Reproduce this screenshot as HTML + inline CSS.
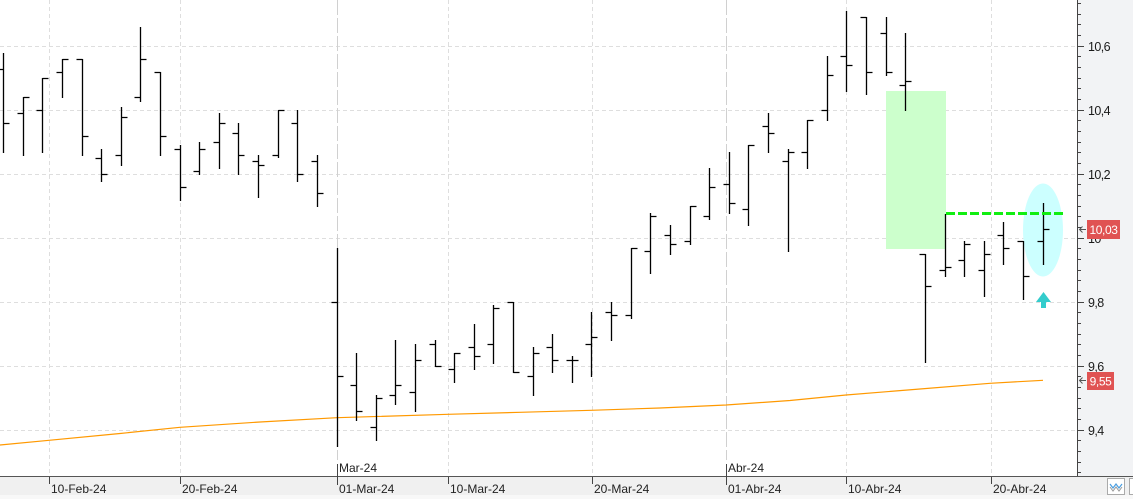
<!DOCTYPE html>
<html>
<head>
<meta charset="utf-8">
<style>
html,body{margin:0;padding:0;background:#fff;}
svg{display:block;}
text{font-family:"Liberation Sans",sans-serif;}
</style>
</head>
<body>
<svg width="1133" height="499" viewBox="0 0 1133 499" xmlns="http://www.w3.org/2000/svg">
<rect x="0" y="0" width="1133" height="499" fill="#ffffff"/>
<rect x="1078" y="0" width="55" height="476" fill="#f2f3f5"/>
<rect x="0" y="476" width="1133" height="19" fill="#f0f0f0"/>
<rect x="0" y="495" width="1133" height="4" fill="#f8f8f8"/>

<g stroke="#dedede" stroke-width="1" stroke-dasharray="4 3" fill="none">
<path d="M0 46.5H1077M0 110.5H1077M0 174.5H1077M0 238.5H1077M0 302.5H1077M0 366.5H1077M0 430.5H1077"/>
<path d="M49.5 0V476M180.5 0V476M448.5 0V476M592.5 0V476M846.5 0V476M991.5 0V476"/>
</g>
<g stroke="#d0d0d0" stroke-width="1" stroke-dasharray="15 3" fill="none">
<path d="M337.5 0V460M726.5 0V460"/>
</g>

<rect x="886" y="91" width="60" height="158" fill="#ccffcc"/>
<ellipse cx="1043" cy="230" rx="20" ry="46.5" fill="#ccffff"/>

<polyline fill="none" stroke="#ff9900" stroke-width="1.2" points="0,445 49,440.3 120,433.5 180,427.3 260,422 337,417.7 448,414.3 520,412.3 591,410.3 660,408 726,405 790,400.5 846,395 920,389 990,383.3 1043,380.3"/>

<path fill="none" stroke="#000" stroke-width="1.3" d="M3.5 53V153M-2.5 69.5H3.5M3.5 123.5H9.5 M23.5 97V156M17.5 113.5H23.5M23.5 97.5H29.5 M42.5 78V153M36.5 110.5H42.5M42.5 78.5H48.5 M62.5 59V98M56.5 72.5H62.5M62.5 59.5H68.5 M82.5 59V156M76.5 59.5H82.5M82.5 136.5H88.5 M101.5 149V182M95.5 158.5H101.5M101.5 174.5H107.5 M121.5 107V166M115.5 155.5H121.5M121.5 117.5H127.5 M140.5 27V102M134.5 97.5H140.5M140.5 59.5H146.5 M160.5 72V156M154.5 72.5H160.5M160.5 136.5H166.5 M180.5 145V201M174.5 149.5H180.5M180.5 187.5H186.5 M199.5 142V175M193.5 171.5H199.5M199.5 149.5H205.5 M219.5 113V169M213.5 142.5H219.5M219.5 123.5H225.5 M238.5 123V175M232.5 133.5H238.5M238.5 155.5H244.5 M258.5 155V198M252.5 161.5H258.5M258.5 165.5H264.5 M278.5 110V158M272.5 155.5H278.5M278.5 110.5H284.5 M297.5 110V182M291.5 123.5H297.5M297.5 174.5H303.5 M317.5 155V207M311.5 161.5H317.5M317.5 193.5H323.5 M337.5 248V447M331.5 302.5H337.5M337.5 376.5H343.5 M356.5 353V421M350.5 385.5H356.5M356.5 411.5H362.5 M376.5 395V441M370.5 427.5H376.5M376.5 398.5H382.5 M395.5 340V405M389.5 395.5H395.5M395.5 385.5H401.5 M415.5 344V412M409.5 392.5H415.5M415.5 360.5H421.5 M435.5 340V367M429.5 344.5H435.5M435.5 366.5H441.5 M454.5 353V383M448.5 369.5H454.5M454.5 353.5H460.5 M474.5 324V370M468.5 347.5H474.5M474.5 356.5H480.5 M493.5 305V364M487.5 344.5H493.5M493.5 308.5H499.5 M513.5 302V373M507.5 302.5H513.5M513.5 372.5H519.5 M533.5 347V396M527.5 376.5H533.5M533.5 353.5H539.5 M552.5 334V373M546.5 347.5H552.5M552.5 360.5H558.5 M572.5 356V383M566.5 360.5H572.5M572.5 360.5H578.5 M591.5 312V377M585.5 344.5H591.5M591.5 337.5H597.5 M611.5 302V341M605.5 312.5H611.5M611.5 315.5H617.5 M631.5 248V319M625.5 315.5H631.5M631.5 248.5H637.5 M650.5 213V274M644.5 251.5H650.5M650.5 216.5H656.5 M670.5 225V255M664.5 235.5H670.5M670.5 244.5H676.5 M690.5 206V245M684.5 241.5H690.5M690.5 206.5H696.5 M709.5 168V220M703.5 216.5H709.5M709.5 187.5H715.5 M729.5 152V214M723.5 184.5H729.5M729.5 203.5H735.5 M748.5 145V226M742.5 209.5H748.5M748.5 145.5H754.5 M768.5 113V153M762.5 126.5H768.5M768.5 133.5H774.5 M788.5 149V252M782.5 161.5H788.5M788.5 152.5H794.5 M807.5 120V169M801.5 152.5H807.5M807.5 120.5H813.5 M827.5 56V121M821.5 110.5H827.5M827.5 75.5H833.5 M846.5 11V92M840.5 56.5H846.5M846.5 65.5H852.5 M866.5 17V95M860.5 17.5H866.5M866.5 72.5H872.5 M886.5 17V76M880.5 33.5H886.5M886.5 72.5H892.5 M905.5 33V111M899.5 85.5H905.5M905.5 81.5H911.5 M925.5 254V363M919.5 254.5H925.5M925.5 286.5H931.5 M945.5 214V277M939.5 270.5H945.5M945.5 267.5H951.5 M964.5 241V277M958.5 260.5H964.5M964.5 244.5H970.5 M984.5 241V297M978.5 270.5H984.5M984.5 254.5H990.5 M1003.5 222V265M997.5 235.5H1003.5M1003.5 248.5H1009.5 M1023.5 241V300M1017.5 241.5H1023.5M1023.5 276.5H1029.5 M1043.5 203V265M1037.5 241.5H1043.5M1043.5 229.5H1049.5"/>

<line x1="946" y1="213.5" x2="1063" y2="213.5" stroke="#11ee11" stroke-width="3" stroke-dasharray="9 3"/>

<polygon points="1043.5,292 1051,302 1036,302" fill="#33cccc"/>
<rect x="1041" y="301" width="5" height="7" fill="#33cccc"/>

<line x1="1077.5" y1="0" x2="1077.5" y2="476" stroke="#444" stroke-width="1"/>
<line x1="0" y1="476.5" x2="1133" y2="476.5" stroke="#555" stroke-width="1"/>

<g stroke="#444" stroke-width="1">
<path d="M1077 46.5H1084M1077 110.5H1084M1077 174.5H1084M1077 238.5H1084M1077 302.5H1084M1077 366.5H1084M1077 430.5H1084"/>
<path d="M1077 3.5H1081M1077 14.5H1081M1077 24.5H1081M1077 35.5H1081 M1077 56.5H1081M1077 67.5H1081M1077 78.5H1081M1077 88.5H1081M1077 99.5H1081 M1077 120.5H1081M1077 131.5H1081M1077 142.5H1081M1077 152.5H1081M1077 163.5H1081 M1077 184.5H1081M1077 195.5H1081M1077 206.5H1081M1077 216.5H1081M1077 227.5H1081 M1077 248.5H1081M1077 259.5H1081M1077 270.5H1081M1077 280.5H1081M1077 291.5H1081 M1077 312.5H1081M1077 323.5H1081M1077 334.5H1081M1077 344.5H1081M1077 355.5H1081 M1077 376.5H1081M1077 387.5H1081M1077 398.5H1081M1077 408.5H1081M1077 419.5H1081 M1077 440.5H1081M1077 451.5H1081M1077 462.5H1081M1077 472.5H1081"/>
</g>
<g font-size="12.5" fill="#1a1a1a" letter-spacing="-0.6">
<text x="1088" y="51">10,6</text>
<text x="1088" y="115">10,4</text>
<text x="1088" y="179">10,2</text>
<text x="1088" y="243">10</text>
<text x="1088" y="307">9,8</text>
<text x="1088" y="371">9,6</text>
<text x="1088" y="435">9,4</text>
</g>

<rect x="1087" y="220" width="33" height="19" fill="#e05353"/>
<text x="1103.5" y="234" font-size="12" fill="#fff" text-anchor="middle" letter-spacing="-0.4">10,03</text>
<rect x="1087" y="372" width="27" height="18" fill="#e05353"/>
<text x="1100.5" y="385.5" font-size="12" fill="#fff" text-anchor="middle" letter-spacing="-0.4">9,55</text>
<g stroke="#555" stroke-width="1" fill="none">
<path d="M1080 229.5H1086M1082.5 226.5L1079.5 229.5L1082.5 232.5"/>
<path d="M1080 380.5H1086M1082.5 377.5L1079.5 380.5L1082.5 383.5"/>
</g>

<g stroke="#444" stroke-width="1">
<path d="M49.5 477V484M180.5 477V484M448.5 477V484M592.5 477V484M846.5 477V484M991.5 477V484"/>
<path d="M337.5 464V485M726.5 464V485"/>
</g>
<g font-size="12" fill="#222">
<text x="51" y="493">10-Feb-24</text>
<text x="182" y="493">20-Feb-24</text>
<text x="339" y="493">01-Mar-24</text>
<text x="450" y="493">10-Mar-24</text>
<text x="594" y="493">20-Mar-24</text>
<text x="728" y="493">01-Abr-24</text>
<text x="848" y="493">10-Abr-24</text>
<text x="993" y="493">20-Abr-24</text>
<text x="339" y="472">Mar-24</text>
<text x="728" y="472">Abr-24</text>
</g>

<rect x="1107.5" y="478.5" width="17" height="16" fill="#fff" stroke="#aaa"/>
<polyline points="1110,484 1113,488 1116,484 1119,488 1122,484" fill="none" stroke="#4a9ee0" stroke-width="1.2"/>
<polyline points="1110,487 1113,491 1116,487 1119,491 1122,487" fill="none" stroke="#9a9a9a" stroke-width="1"/>
<rect x="1129.5" y="478.5" width="10" height="16" fill="#fff" stroke="#aaa"/>
</svg>
</body>
</html>
